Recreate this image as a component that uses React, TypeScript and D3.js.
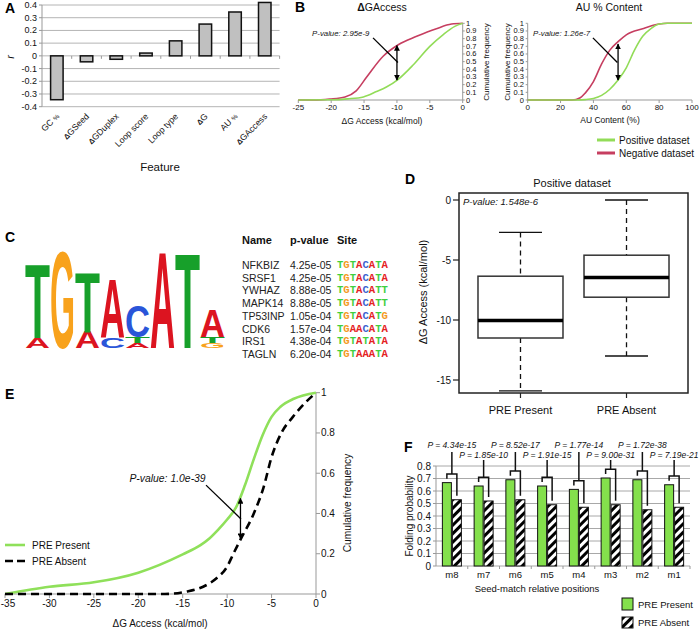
import React from "react";
import * as d3 from "d3";

const FONT = "'Liberation Sans', Arial, Helvetica, sans-serif";

// ---------- Panel A ----------
const featureNames = ["GC %", "ΔGSeed", "ΔGDuplex", "Loop score", "Loop type", "ΔG", "AU %", "ΔGAccess"];
const featureR = [-0.345, -0.047, -0.027, 0.022, 0.118, 0.25, 0.345, 0.42];
const rTicks = [0.4, 0.3, 0.2, 0.1, 0, -0.1, -0.2, -0.3, -0.4];

// ---------- Panel B ----------
const accessPosX = [-25, -20, -17.5, -15.1, -13.1, -11.6, -9.8, -7.5, -5, -3, -1.2, 0];
const accessPosY = [0, 0.003, 0.015, 0.04, 0.11, 0.17, 0.27, 0.46, 0.7, 0.85, 0.96, 1];
const accessNegX = [-25, -22.7, -20.2, -17.9, -16.2, -14.6, -12.1, -9.8, -7, -4, -1.7, 0];
const accessNegY = [0, 0, 0.013, 0.04, 0.12, 0.3, 0.57, 0.72, 0.83, 0.93, 0.99, 1];
const auPosX = [0, 30, 35, 40, 45, 50, 55, 60, 65, 70, 75, 80, 85, 100];
const auPosY = [0, 0, 0.005, 0.02, 0.06, 0.14, 0.26, 0.42, 0.65, 0.83, 0.93, 0.99, 1, 1];
const auNegX = [0, 27, 32, 35, 40, 45, 50, 55, 60, 70, 80, 85, 100];
const auNegY = [0, 0, 0.03, 0.09, 0.24, 0.47, 0.65, 0.76, 0.85, 0.93, 0.99, 1, 1];
const accessTicks = [-25, -20, -15, -10, -5, 0];
const auTicks = [0, 20, 40, 60, 80, 100];
const cumTicksB = [0, 0.1, 0.2, 0.3, 0.4, 0.5, 0.6, 0.7, 0.8, 0.9, 1];
const legendB = ["Positive dataset", "Negative dataset"];
const pValuesB = ["2.95e-9", "1.26e-7"];

// ---------- Panel C ----------
const logoStacks: [string, number][][] = [
  [["A", 0.2], ["T", 1.46]],
  [["G", 1.9]],
  [["A", 0.32], ["T", 1.18]],
  [["C", 0.2], ["A", 1.16]],
  [["A", 0.1], ["T", 0.12], ["C", 0.62]],
  [["A", 1.9]],
  [["T", 1.88]],
  [["G", 0.1], ["T", 0.12], ["A", 0.54]],
];
const geneNames = ["NFKBIZ", "SRSF1", "YWHAZ", "MAPK14", "TP53INP", "CDK6", "IRS1", "TAGLN"];
const genePValues = ["4.25e-05", "4.25e-05", "8.88e-05", "8.88e-05", "1.05e-04", "1.57e-04", "4.38e-04", "6.20e-04"];
const geneSites = ["TGTACATA", "TGTACATA", "TGTACATT", "TGTACATT", "TGTACATG", "TGAACATA", "TGTATATA", "TGTAAATA"];

// ---------- Panel D ----------
const boxGroups = ["PRE Present", "PRE Absent"];
const boxMin = [-15.9, -13.0];
const boxQ1 = [-11.5, -8.1];
const boxMedian = [-10.05, -6.45];
const boxQ3 = [-6.35, -4.6];
const boxMax = [-2.7, 0];
const boxTicks = [0, -5, -10, -15];
const pValueD = "1.548e-6";

// ---------- Panel E ----------
const presentX = [-35, -30, -25, -20, -15, -13, -12, -11, -10, -9, -8, -7, -6, -5, -4, -2.5, 0];
const presentY = [0, 0.036, 0.058, 0.106, 0.197, 0.243, 0.276, 0.32, 0.37, 0.43, 0.54, 0.67, 0.79, 0.88, 0.93, 0.97, 1];
const absentX = [-35, -17, -14.6, -12.7, -11.2, -10, -9.3, -8.5, -7, -5.9, -5, -3.9, -2.6, -1.1, 0];
const absentY = [0, 0, 0.012, 0.036, 0.078, 0.136, 0.2, 0.27, 0.4, 0.53, 0.68, 0.8, 0.88, 0.955, 1];
const eXTicks = [-35, -30, -25, -20, -15, -10, -5, 0];
const eYTicks = [0, 0.2, 0.4, 0.6, 0.8, 1];
const legendE = ["PRE Present", "PRE Absent"];
const pValueE = "1.0e-39";

// ---------- Panel F ----------
const seedPositions = ["m8", "m7", "m6", "m5", "m4", "m3", "m2", "m1"];
const foldPresent = [0.667, 0.64, 0.69, 0.64, 0.613, 0.704, 0.69, 0.65];
const foldAbsent = [0.53, 0.52, 0.53, 0.49, 0.47, 0.49, 0.45, 0.47];
const foldPValues = ["4.34e-15", "1.85e-10", "8.52e-17", "1.91e-15", "1.77e-14", "9.00e-31", "1.72e-38", "7.19e-21"];
const fTicks = [0, 0.1, 0.2, 0.3, 0.4, 0.5, 0.6, 0.7, 0.8];

const LOGO_COLORS: Record<string, string> = { A: "#dc1420", C: "#2a55d9", G: "#f8a21c", T: "#17a02a" };
const SITE_COLORS: Record<string, string> = { A: "#e42222", C: "#3a62d0", G: "#f39a1e", T: "#3fcf3f" };

const GREEN_B = "#92dc58";
const RED_B = "#c63e60";
const GREEN_E = "#8fe05a";
const GREEN_F = "#84e04c";

function labelWithDelta(label: string) {
  if (label.startsWith("Δ")) {
    return (
      <>
        <tspan fontWeight="bold" fontSize="0.85em">Δ</tspan>
        {label.slice(1)}
      </>
    );
  }
  if (label.endsWith("%")) {
    return (
      <>
        {label.slice(0, -1)}
        <tspan fontSize="0.75em">%</tspan>
      </>
    );
  }
  return label;
}

function Arrow({ x, y0, y1 }: { x: number; y0: number; y1: number }) {
  return (
    <line x1={x} x2={x} y1={y0} y2={y1} stroke="#000" strokeWidth={1.3}
      markerStart="url(#ah)" markerEnd="url(#ah)" />
  );
}

export default function App() {
  // ----- A -----
  const xA = d3.scaleBand<string>().domain(featureNames).range([42, 279.6]);
  const yA = d3.scaleLinear().domain([-0.4, 0.4]).range([106.7, 5]);
  const barWA = 12.5;

  // ----- B -----
  const xB1 = d3.scaleLinear().domain([-25, 0]).range([298.3, 462.7]);
  const xB2 = d3.scaleLinear().domain([0, 100]).range([527.7, 692]);
  const yB = d3.scaleLinear().domain([0, 1]).range([100, 23.3]);
  const mkLine = (xs: number[], ys: number[], sx: d3.ScaleLinear<number, number>, sy: d3.ScaleLinear<number, number>) =>
    d3.line<number>().x((d) => sx(d)).y((_, i) => sy(ys[i])).curve(d3.curveMonotoneX)(xs) || "";

  // ----- C -----
  const xLogo = d3.scaleBand<number>().domain(d3.range(logoStacks.length)).range([25, 225]);
  const yLogo = d3.scaleLinear().domain([0, 2]).range([348, 248]);
  const CAP = 69; // cap height of the font at 100px

  // ----- D -----
  const xD = d3.scalePoint<string>().domain(boxGroups).range([459, 688]).padding(0.58);
  const yD = d3.scaleLinear().domain([-15, 0]).range([380, 200]);
  const boxW = 85;
  const capW = 43;

  // ----- E -----
  const xE = d3.scaleLinear().domain([-35, 0]).range([5, 316]);
  const yE = d3.scaleLinear().domain([0, 1]).range([594, 392.7]);

  // ----- F -----
  const xF = d3.scaleBand<string>().domain(seedPositions).range([436, 690]);
  const yF = d3.scaleLinear().domain([0, 0.8]).range([566, 466]);

  const tickStyle = { fontFamily: FONT, fill: "#111" } as const;

  return (
    <svg width={700} height={630} style={{ position: "absolute", left: 0, top: 0, background: "#fff" }}
      fontFamily={FONT}>
      <defs>
        <marker id="ah" viewBox="0 0 10 10" refX="9" refY="5" markerWidth="4.5" markerHeight="4.5"
          orient="auto-start-reverse">
          <path d="M0,0L10,5L0,10z" fill="#000" />
        </marker>
        <pattern id="hatch" patternUnits="userSpaceOnUse" width="6" height="6" patternTransform="rotate(45)">
          <rect width="6" height="6" fill="#fff" />
          <rect width="3" height="6" fill="#000" />
        </pattern>
      </defs>
      <rect width={700} height={630} fill="#fff" />

      {/* ================= Panel A ================= */}
      <text x={5} y={13} fontSize={14} fontWeight="bold">A</text>
      {rTicks.map((t) => (
        <g key={"ga" + t}>
          <line x1={42} x2={279.6} y1={yA(t)} y2={yA(t)} stroke="#b4b4b4" strokeWidth={1} />
          <line x1={39} x2={42} y1={yA(t)} y2={yA(t)} stroke="#999" />
          <text x={37} y={yA(t)} fontSize={9} textAnchor="end" dominantBaseline="central" {...tickStyle}>
            {t === 0 ? "0" : t.toFixed(1)}
          </text>
        </g>
      ))}
      <line x1={42} x2={42} y1={yA(0.4)} y2={yA(-0.4)} stroke="#999" />
      {featureNames.map((f) => (
        <line key={"ta" + f} x1={(xA(f) as number) + xA.bandwidth()} x2={(xA(f) as number) + xA.bandwidth()}
          y1={yA(0)} y2={yA(0) + 3} stroke="#999" />
      ))}
      {featureNames.map((f, i) => {
        const cx = (xA(f) as number) + xA.bandwidth() / 2;
        const v = featureR[i];
        return (
          <rect key={"ba" + f} x={cx - barWA / 2} width={barWA} y={yA(Math.max(0, v))}
            height={Math.abs(yA(v) - yA(0))} fill="#c0c0c0" stroke="#111" strokeWidth={1.5} />
        );
      })}
      {featureNames.map((f) => {
        const cx = (xA(f) as number) + xA.bandwidth() / 2;
        return (
          <text key={"la" + f} x={cx + 3} y={117} fontSize={8.7} textAnchor="end"
            transform={`rotate(-45 ${cx + 3} 117)`} fill="#111">
            {labelWithDelta(f)}
          </text>
        );
      })}
      <text x={160} y={171} fontSize={11.5} textAnchor="middle" fill="#111">Feature</text>
      <text x={14} y={57} fontSize={11} fontStyle="italic" textAnchor="middle" transform="rotate(-90 14 57)" fill="#111">r</text>

      {/* ================= Panel B ================= */}
      <text x={295} y={12} fontSize={14} fontWeight="bold">B</text>
      <text x={382} y={11} fontSize={10.5} textAnchor="middle" fill="#111">
        <tspan fontWeight="bold">Δ</tspan>GAccess
      </text>
      <text x={609} y={11} fontSize={10.5} textAnchor="middle" fill="#111">AU % Content</text>
      <line x1={xB1(-25)} x2={xB1(0)} y1={yB(0)} y2={yB(0)} stroke="#999" />
      <line x1={xB1(0)} x2={xB1(0)} y1={yB(0)} y2={yB(1)} stroke="#999" />
      {accessTicks.map((t) => (
        <g key={"bx1" + t}>
          <line x1={xB1(t)} x2={xB1(t)} y1={yB(0)} y2={yB(0) + 3} stroke="#999" />
          <text x={xB1(t)} y={110} fontSize={8} textAnchor="middle" {...tickStyle}>{t}</text>
        </g>
      ))}
      {cumTicksB.map((t) => (
        <g key={"by1" + t}>
          <line x1={xB1(0)} x2={xB1(0) + 2} y1={yB(t)} y2={yB(t)} stroke="#999" />
          <text x={466} y={yB(t)} fontSize={7.5} dominantBaseline="central" {...tickStyle}>{t}</text>
        </g>
      ))}
      <text x={489} y={62} fontSize={8} textAnchor="middle" transform="rotate(-90 489 62)" fill="#111">Cumulative frequency</text>
      <path d={mkLine(accessNegX, accessNegY, xB1, yB)} fill="none" stroke={RED_B} strokeWidth={1.6} />
      <path d={mkLine(accessPosX, accessPosY, xB1, yB)} fill="none" stroke={GREEN_B} strokeWidth={1.6} />
      <Arrow x={xB1(-10)} y0={yB(0.71)} y1={yB(0.26)} />
      <line x1={xB1(-13.64)} y1={yB(0.81)} x2={xB1(-9.85)} y2={yB(0.49)} stroke="#000" strokeWidth={1.3} />
      <text x={xB1(-22.9)} y={yB(0.83)} fontSize={7.8} fontStyle="italic" fill="#111">P-value: {pValuesB[0]}</text>
      <text x={382} y={124} fontSize={8.5} textAnchor="middle" fill="#111">ΔG Access (kcal/mol)</text>

      <line x1={xB2(0)} x2={xB2(100)} y1={yB(0)} y2={yB(0)} stroke="#999" />
      <line x1={xB2(0)} x2={xB2(0)} y1={yB(0)} y2={yB(1)} stroke="#999" />
      {auTicks.map((t) => (
        <g key={"bx2" + t}>
          <line x1={xB2(t)} x2={xB2(t)} y1={yB(0)} y2={yB(0) + 3} stroke="#999" />
          <text x={xB2(t)} y={110} fontSize={8} textAnchor="middle" {...tickStyle}>{t}</text>
        </g>
      ))}
      {cumTicksB.map((t) => (
        <g key={"by2" + t}>
          <line x1={xB2(0) - 2} x2={xB2(0)} y1={yB(t)} y2={yB(t)} stroke="#999" />
          <text x={524} y={yB(t)} fontSize={7.5} textAnchor="end" dominantBaseline="central" {...tickStyle}>{t}</text>
        </g>
      ))}
      <text x={510} y={62} fontSize={8} textAnchor="middle" transform="rotate(-90 510 62)" fill="#111">Cumulative frequency</text>
      <path d={mkLine(auNegX, auNegY, xB2, yB)} fill="none" stroke={RED_B} strokeWidth={1.6} />
      <path d={mkLine(auPosX, auPosY, xB2, yB)} fill="none" stroke={GREEN_B} strokeWidth={1.6} />
      <Arrow x={xB2(55)} y0={yB(0.73)} y1={yB(0.26)} />
      <line x1={xB2(39.7)} y1={yB(0.81)} x2={xB2(54.6)} y2={yB(0.49)} stroke="#000" strokeWidth={1.3} />
      <text x={xB2(3.2)} y={yB(0.83)} fontSize={7.8} fontStyle="italic" fill="#111">P-value: {pValuesB[1]}</text>
      <text x={610} y={123} fontSize={8.5} textAnchor="middle" fill="#111">AU Content (%)</text>

      {legendB.map((l, i) => (
        <g key={"lb" + l}>
          <line x1={597} x2={615} y1={140 + i * 13} y2={140 + i * 13} stroke={i === 0 ? GREEN_B : RED_B} strokeWidth={3} />
          <text x={619} y={140 + i * 13} fontSize={10} dominantBaseline="central" fill="#111">{l}</text>
        </g>
      ))}

      {/* ================= Panel C ================= */}
      <text x={5} y={242} fontSize={14} fontWeight="bold">C</text>
      {logoStacks.map((stack, i) => {
        let base = 0;
        const x = xLogo(i) as number;
        const w = xLogo.bandwidth();
        return (
          <g key={"logo" + i}>
            {stack.map(([ch, h], j) => {
              const y0 = yLogo(base);
              const y1 = yLogo(base + h);
              base += h;
              const hh = y0 - y1;
              return (
                <text key={j} x={0} y={0} fontSize={100} fontWeight="bold" fill={LOGO_COLORS[ch]}
                  textLength={w} lengthAdjust="spacingAndGlyphs"
                  transform={`translate(${x},${y0}) scale(1,${hh / CAP})`}>
                  {ch}
                </text>
              );
            })}
          </g>
        );
      })}
      <text x={242} y={244} fontSize={11} fontWeight="bold" fill="#111">Name</text>
      <text x={290} y={244} fontSize={11} fontWeight="bold" fill="#111">p-value</text>
      <text x={337} y={244} fontSize={11} fontWeight="bold" fill="#111">Site</text>
      {geneNames.map((g, i) => {
        const y = 265 + i * 12.7;
        return (
          <g key={"row" + g}>
            <text x={242} y={y} fontSize={10.5} dominantBaseline="central" fill="#222">{g}</text>
            <text x={290} y={y} fontSize={10.5} dominantBaseline="central" fill="#222">{genePValues[i]}</text>
            <text x={337} y={y} fontSize={10.6} fontWeight="bold" dominantBaseline="central"
              fontFamily="'Liberation Mono', 'DejaVu Sans Mono', monospace">
              {geneSites[i].split("").map((c, k) => (
                <tspan key={k} fill={SITE_COLORS[c]}>{c}</tspan>
              ))}
            </text>
          </g>
        );
      })}

      {/* ================= Panel D ================= */}
      <text x={405} y={184} fontSize={14} fontWeight="bold">D</text>
      <text x={572} y={187} fontSize={11} textAnchor="middle" fill="#111">Positive dataset</text>
      <rect x={459} y={193} width={229} height={200} fill="none" stroke="#222" strokeWidth={1.5} />
      {boxTicks.map((t) => (
        <g key={"dt" + t}>
          <line x1={453} x2={459} y1={yD(t)} y2={yD(t)} stroke="#222" strokeWidth={1.2} />
          <text x={451} y={yD(t)} fontSize={10} textAnchor="end" dominantBaseline="central" {...tickStyle}>{t}</text>
        </g>
      ))}
      <text x={427} y={292} fontSize={11} textAnchor="middle" transform="rotate(-90 427 292)" fill="#111">ΔG Access (kcal/mol)</text>
      <text x={463} y={205} fontSize={9.5} fontStyle="italic" fill="#111">P-value: {pValueD}</text>
      {boxGroups.map((g, i) => {
        const cx = xD(g) as number;
        return (
          <g key={"box" + g}>
            <line x1={cx} x2={cx} y1={yD(boxMax[i])} y2={yD(boxQ3[i])} stroke="#111" strokeWidth={1.3} strokeDasharray="5,4" />
            <line x1={cx} x2={cx} y1={yD(boxQ1[i])} y2={yD(boxMin[i])} stroke="#111" strokeWidth={1.3} strokeDasharray="5,4" />
            <line x1={cx - capW / 2} x2={cx + capW / 2} y1={yD(boxMax[i])} y2={yD(boxMax[i])} stroke="#111" strokeWidth={1.3} />
            <line x1={cx - capW / 2} x2={cx + capW / 2} y1={yD(boxMin[i])} y2={yD(boxMin[i])} stroke="#111" strokeWidth={1.3} />
            <rect x={cx - boxW / 2} width={boxW} y={yD(boxQ3[i])} height={yD(boxQ1[i]) - yD(boxQ3[i])}
              fill="#fff" stroke="#333" strokeWidth={1.5} />
            <line x1={cx - boxW / 2} x2={cx + boxW / 2} y1={yD(boxMedian[i])} y2={yD(boxMedian[i])} stroke="#000" strokeWidth={3.5} />
            <line x1={cx} x2={cx} y1={393} y2={398} stroke="#222" strokeWidth={1.2} />
            <text x={cx} y={414} fontSize={11} textAnchor="middle" fill="#111">{g}</text>
          </g>
        );
      })}

      {/* ================= Panel E ================= */}
      <text x={5} y={399} fontSize={14} fontWeight="bold">E</text>
      <line x1={xE(-35)} x2={xE(0)} y1={yE(0)} y2={yE(0)} stroke="#999" />
      <line x1={xE(0)} x2={xE(0)} y1={yE(0)} y2={yE(1)} stroke="#999" />
      {eXTicks.map((t) => (
        <g key={"ex" + t}>
          <line x1={xE(t)} x2={xE(t)} y1={yE(0)} y2={yE(0) + 4} stroke="#999" />
          <text x={Math.max(xE(t), 8)} y={607} fontSize={10} textAnchor="middle" {...tickStyle}>{t}</text>
        </g>
      ))}
      {eYTicks.map((t) => (
        <g key={"ey" + t}>
          <line x1={xE(0)} x2={xE(0) + 4} y1={yE(t)} y2={yE(t)} stroke="#999" />
          <text x={321} y={yE(t)} fontSize={10} dominantBaseline="central" {...tickStyle}>{t}</text>
        </g>
      ))}
      <text x={351} y={503} fontSize={10.2} textAnchor="middle" transform="rotate(-90 351 503)" fill="#111">Cumulative frequency</text>
      <text x={160} y={627} fontSize={10} textAnchor="middle" fill="#111">ΔG Access (kcal/mol)</text>
      <path d={mkLine(presentX, presentY, xE, yE)} fill="none" stroke={GREEN_E} strokeWidth={2.6} />
      <path d={mkLine(absentX, absentY, xE, yE)} fill="none" stroke="#000" strokeWidth={2.6} strokeDasharray="8,5" />
      <Arrow x={xE(-8.5)} y0={yE(0.475)} y1={yE(0.275)} />
      <line x1={xE(-12.38)} y1={yE(0.541)} x2={xE(-8.44)} y2={yE(0.373)} stroke="#000" strokeWidth={1.3} />
      <text x={xE(-21)} y={yE(0.556)} fontSize={10.4} fontStyle="italic" fill="#111">P-value: {pValueE}</text>
      {legendE.map((l, i) => (
        <g key={"le" + l}>
          <line x1={5} x2={25} y1={545 + i * 16} y2={545 + i * 16} stroke={i === 0 ? GREEN_E : "#000"}
            strokeWidth={2.6} strokeDasharray={i === 0 ? undefined : "8,4"} />
          <text x={32} y={545 + i * 16} fontSize={10} dominantBaseline="central" fill="#111">{l}</text>
        </g>
      ))}

      {/* ================= Panel F ================= */}
      <text x={404} y={452} fontSize={14} fontWeight="bold">F</text>
      {fTicks.map((t) => (
        <g key={"ft" + t}>
          <line x1={436} x2={690} y1={yF(t)} y2={yF(t)} stroke="#a8a8a8" />
          <line x1={433} x2={436} y1={yF(t)} y2={yF(t)} stroke="#999" />
          <text x={431} y={yF(t)} fontSize={10} textAnchor="end" dominantBaseline="central" {...tickStyle}>
            {t === 0 ? "0" : t.toFixed(1)}
          </text>
        </g>
      ))}
      <line x1={436} x2={436} y1={yF(0)} y2={yF(0.8)} stroke="#999" />
      {seedPositions.map((s) => (
        <line key={"fb" + s} x1={(xF(s) as number) + xF.bandwidth()} x2={(xF(s) as number) + xF.bandwidth()}
          y1={yF(0)} y2={yF(0) + 3} stroke="#999" />
      ))}
      {seedPositions.map((s, i) => {
        const c = (xF(s) as number) + xF.bandwidth() / 2;
        const gp = foldPresent[i];
        const ga = foldAbsent[i];
        const bY = yF(gp + 0.07);
        const row = i % 2;
        const stemTop = row === 0 ? 452 : 460;
        return (
          <g key={"fbar" + s}>
            <rect x={c - 9.5} width={9} y={yF(gp)} height={yF(0) - yF(gp)} fill={GREEN_F} stroke="#111" strokeWidth={1} />
            <rect x={c + 0.5} width={9} y={yF(ga)} height={yF(0) - yF(ga)} fill="url(#hatch)" stroke="#111" strokeWidth={1} />
            <path d={`M${c - 5},${yF(gp) - 4}V${bY}H${c + 5}V${yF(ga) - 4}`} fill="none" stroke="#111" strokeWidth={1.5} />
            <line x1={c} x2={c} y1={bY} y2={stemTop} stroke="#111" strokeWidth={1.5} />
            <text x={c} y={row === 0 ? 448 : 457.5} fontSize={8.5} fontStyle="italic" textAnchor="middle" fill="#111">
              P = {foldPValues[i]}
            </text>
            <text x={c} y={578} fontSize={9.5} textAnchor="middle" fill="#111">{s}</text>
          </g>
        );
      })}
      <text x={537} y={592} fontSize={9.5} textAnchor="middle" fill="#111">Seed-match relative positions</text>
      <text x={413} y={516} fontSize={10} textAnchor="middle" transform="rotate(-90 413 516)" fill="#111">Folding probability</text>
      <rect x={622} y={598} width={11} height={12} fill={GREEN_F} stroke="#111" />
      <text x={638} y={604.5} fontSize={9.5} dominantBaseline="central" fill="#111">PRE Present</text>
      <rect x={622} y={617} width={11} height={11} fill="url(#hatch)" stroke="#111" />
      <text x={638} y={622.5} fontSize={9.5} dominantBaseline="central" fill="#111">PRE Absent</text>
    </svg>
  );
}
